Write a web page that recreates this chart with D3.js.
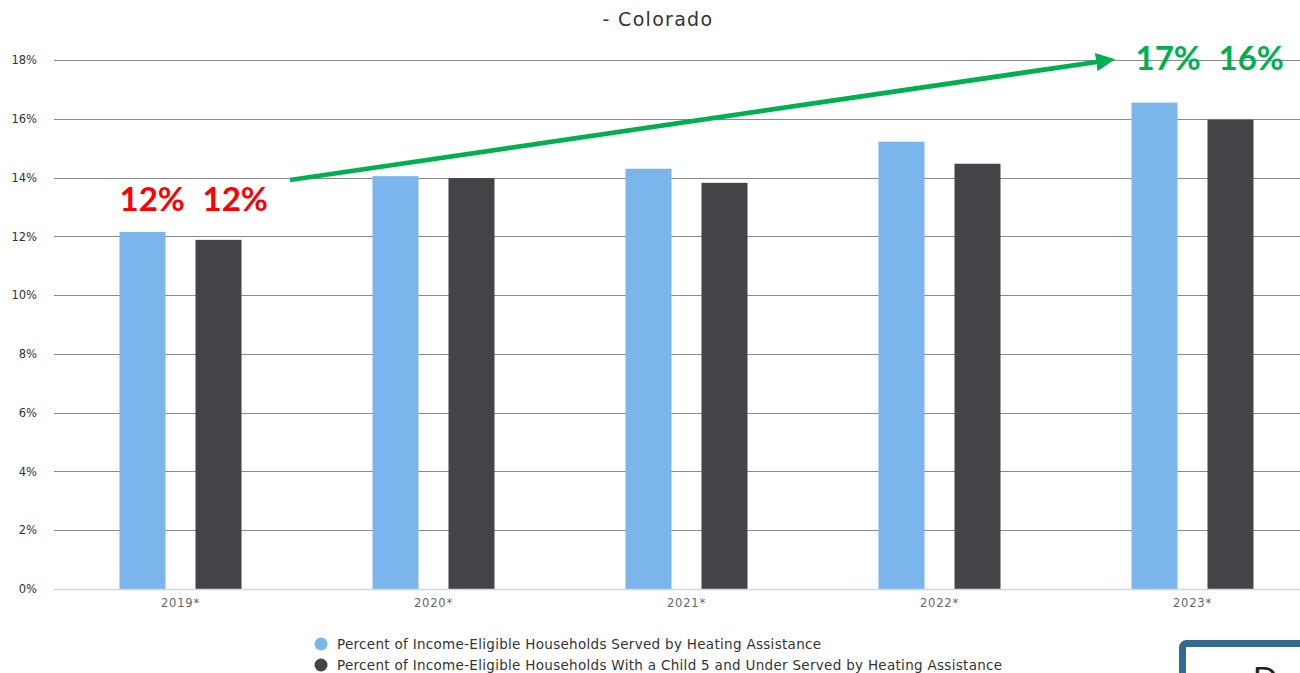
<!DOCTYPE html>
<html><head><meta charset="utf-8">
<script src="https://cdn.jsdelivr.net/npm/d3@7"></script>
<style>html,body{margin:0;padding:0;background:#fff;overflow:hidden}svg{display:block}</style>
</head><body>
<svg id="chart" width="1300" height="673"></svg>
<script>
const categories = ["2019*", "2020*", "2021*", "2022*", "2023*"];
const seriesNames = [
  "Percent of Income-Eligible Households Served by Heating Assistance",
  "Percent of Income-Eligible Households With a Child 5 and Under Served by Heating Assistance"
];
const allHouseholds = [12.15, 14.05, 14.3, 15.22, 16.55];
const childUnder5 = [11.88, 13.98, 13.82, 14.47, 15.97];
const yTicks = [0, 2, 4, 6, 8, 10, 12, 14, 16, 18];
const colors = ["#7cb5ec", "#434348"];
const startLabels = ["12%", "12%"];
const endLabels = ["17%", "16%"];

(function () {
const svg = d3.select("#chart");
const pLeft = 54, pRight = 1319, pTop = 60, pBottom = 589;
const x = d3.scaleBand().domain(categories).range([pLeft, pRight]);
const y = d3.scaleLinear().domain([0, 18]).range([pBottom, pTop]);
const barW = 46, gap = 30;
const inner = d3.scaleBand().domain([0, 1]).range([-(barW + gap / 2), barW + gap / 2]).paddingInner(gap / (barW + gap)).paddingOuter(0);
const barX = (c, si) => x(c) + x.bandwidth() / 2 + inner(si);

// title
svg.append("text").attr("x", 658).attr("y", 26).attr("text-anchor", "middle")
  .attr("font-family", "DejaVu Sans, sans-serif").attr("font-size", 19).attr("letter-spacing", 1.3).attr("fill", "#333")
  .text("- Colorado");

// grid
svg.append("g").selectAll("line").data(yTicks.filter(d => d > 0)).join("line")
  .attr("x1", pLeft).attr("x2", 1300).attr("y1", d => Math.round(y(d)) + 0.5).attr("y2", d => Math.round(y(d)) + 0.5)
  .attr("stroke", "#8a8a8a").attr("stroke-width", 1.2);

// y labels
const yAxis = d3.axisLeft(y).tickValues(yTicks).tickFormat(d => d + "%").tickSize(0).tickPadding(0);
const yg = svg.append("g").attr("transform", `translate(37,0)`).call(yAxis);
yg.select(".domain").remove();
yg.selectAll("text").attr("font-family", "DejaVu Sans, sans-serif").attr("font-size", 11.5).attr("fill", "#333");

// bars
const series = [allHouseholds, childUnder5];
series.forEach((vals, si) => {
  svg.append("g").selectAll("rect").data(categories.map((c, i) => ({c, v: vals[i]}))).join("rect")
    .attr("x", d => barX(d.c, si))
    .attr("width", inner.bandwidth())
    .attr("y", d => y(d.v))
    .attr("height", d => y(0) - y(d.v))
    .attr("fill", colors[si]);
});

// x axis baseline
svg.append("line").attr("x1", pLeft).attr("x2", 1300).attr("y1", pBottom + 0.5).attr("y2", pBottom + 0.5)
  .attr("stroke", "#ccd6eb").attr("stroke-width", 1.5);

// x labels
const xAxis = d3.axisBottom(x).tickSize(0).tickPadding(0);
const xg = svg.append("g").attr("transform", `translate(0,${pBottom + 10})`).call(xAxis);
xg.select(".domain").remove();
xg.selectAll("text").attr("font-family", "DejaVu Sans, sans-serif").attr("font-size", 11.5).attr("letter-spacing", 0.8).attr("fill", "#666").attr("dy", "0.71em");

// legend
const lg = svg.append("g");
seriesNames.forEach((n, i) => {
  lg.append("circle").attr("cx", 321).attr("cy", 644 + i * 21).attr("r", 6.5).attr("fill", colors[i]);
  lg.append("text").attr("x", 337).attr("y", 644 + i * 21).attr("dy", "0.35em")
    .attr("font-family", "DejaVu Sans, sans-serif").attr("font-size", 13.5).attr("letter-spacing", 0.3).attr("fill", "#333")
    .text(n);
});

// annotations
const fontA = "Lato, Carlito, sans-serif";
const redX = [barX(categories[0], 0), barX(categories[0], 1) + 7];
startLabels.forEach((t, i) => {
  svg.append("text").attr("x", redX[i]).attr("y", 211)
    .attr("font-family", fontA).attr("font-weight", 700).attr("font-size", 33)
    .attr("fill", "#ff0000").text(t);
});
const greenX = [barX(categories[4], 0) + 4, barX(categories[4], 1) + 11];
endLabels.forEach((t, i) => {
  svg.append("text").attr("x", greenX[i]).attr("y", 70)
    .attr("font-family", fontA).attr("font-weight", 700).attr("font-size", 33)
    .attr("fill", "#00b050").text(t);
});

// arrow
const defs = svg.append("defs");
defs.append("marker").attr("id", "ah").attr("viewBox", "0 0 10 10").attr("refX", 2).attr("refY", 5)
  .attr("markerWidth", 4).attr("markerHeight", 3.8).attr("orient", "auto").attr("markerUnits", "strokeWidth")
  .attr("preserveAspectRatio", "none")
  .append("path").attr("d", "M0,0 L10,5 L0,10 Z").attr("fill", "#00b050");
svg.append("line").attr("x1", 290).attr("y1", 180).attr("x2", 1100).attr("y2", 61.5)
  .attr("stroke", "#00b050").attr("stroke-width", 4.8).attr("marker-end", "url(#ah)");

// bottom-right box fragment
svg.append("rect").attr("x", 1182.5).attr("y", 643.5).attr("width", 160).attr("height", 80).attr("rx", 4)
  .attr("fill", "#fff").attr("stroke", "#336a8e").attr("stroke-width", 7);
svg.append("text").attr("x", 1253).attr("y", 690).attr("font-family", "Liberation Sans, sans-serif")
  .attr("font-size", 34).attr("fill", "#222").text("D");
})();
</script>
</body></html>
